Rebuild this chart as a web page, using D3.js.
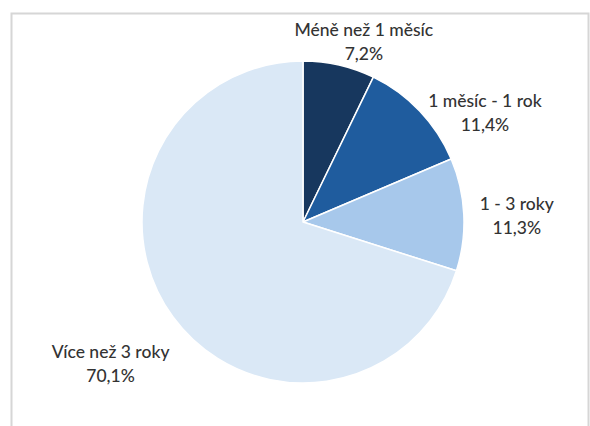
<!DOCTYPE html>
<html>
<head>
<meta charset="utf-8">
<script src="https://cdn.jsdelivr.net/npm/d3@7"></script>
<style>
  html, body { margin: 0; padding: 0; background: #fff; }
  svg { display: block; }
</style>
</head>
<body>
<svg id="chart" width="590" height="426"></svg>
<script>
// Data
const categories = ["Méně než 1 měsíc", "1 měsíc - 1 rok", "1 - 3 roky", "Více než 3 roky"];
const values = [7.2, 11.4, 11.3, 70.1];
const valueLabels = ["7,2%", "11,4%", "11,3%", "70,1%"];

// Style / layout
const colors = ["#17375e", "#1f5c9e", "#a7c8eb", "#dae8f6"];
const labelNudge = [[16, 21], [37, 35], [14, 9], [-31, 30]];

const svg = d3.select("#chart");
const cx = 303, cy = 222, R = 161;

// frame
svg.append("rect")
  .attr("x", 11.5).attr("y", 13.5)
  .attr("width", 577).attr("height", 430)
  .attr("fill", "none").attr("stroke", "#d6d6d6").attr("stroke-width", 2);

const pie = d3.pie().sort(null).value(d => d)(values);
const arc = d3.arc().innerRadius(0).outerRadius(R);
const labelArc = d3.arc().innerRadius(200).outerRadius(200);

const g = svg.append("g").attr("transform", `translate(${cx},${cy})`);

g.selectAll("path.slice")
  .data(pie)
  .join("path")
  .attr("class", "slice")
  .attr("d", arc)
  .attr("fill", (d, i) => colors[i])
  .attr("stroke", "#ffffff")
  .attr("stroke-width", 1.5)
  .attr("stroke-linejoin", "round");

const labels = g.selectAll("text.lbl")
  .data(pie)
  .join("text")
  .attr("class", "lbl")
  .attr("text-anchor", "middle")
  .attr("fill", "#333333")
  .style("font-family", "Lato, 'Open Sans', sans-serif")
  .style("font-size", "17.5px")
  .style("font-weight", "500")
  .attr("transform", (d, i) => {
    const c = labelArc.centroid(d);
    return `translate(${c[0] + labelNudge[i][0]},${c[1] + labelNudge[i][1]})`;
  });

labels.append("tspan").attr("x", 0).attr("y", -12).text((d, i) => categories[i]);
labels.append("tspan").attr("x", 0).attr("y", 12).text((d, i) => valueLabels[i]);
</script>
</body>
</html>
